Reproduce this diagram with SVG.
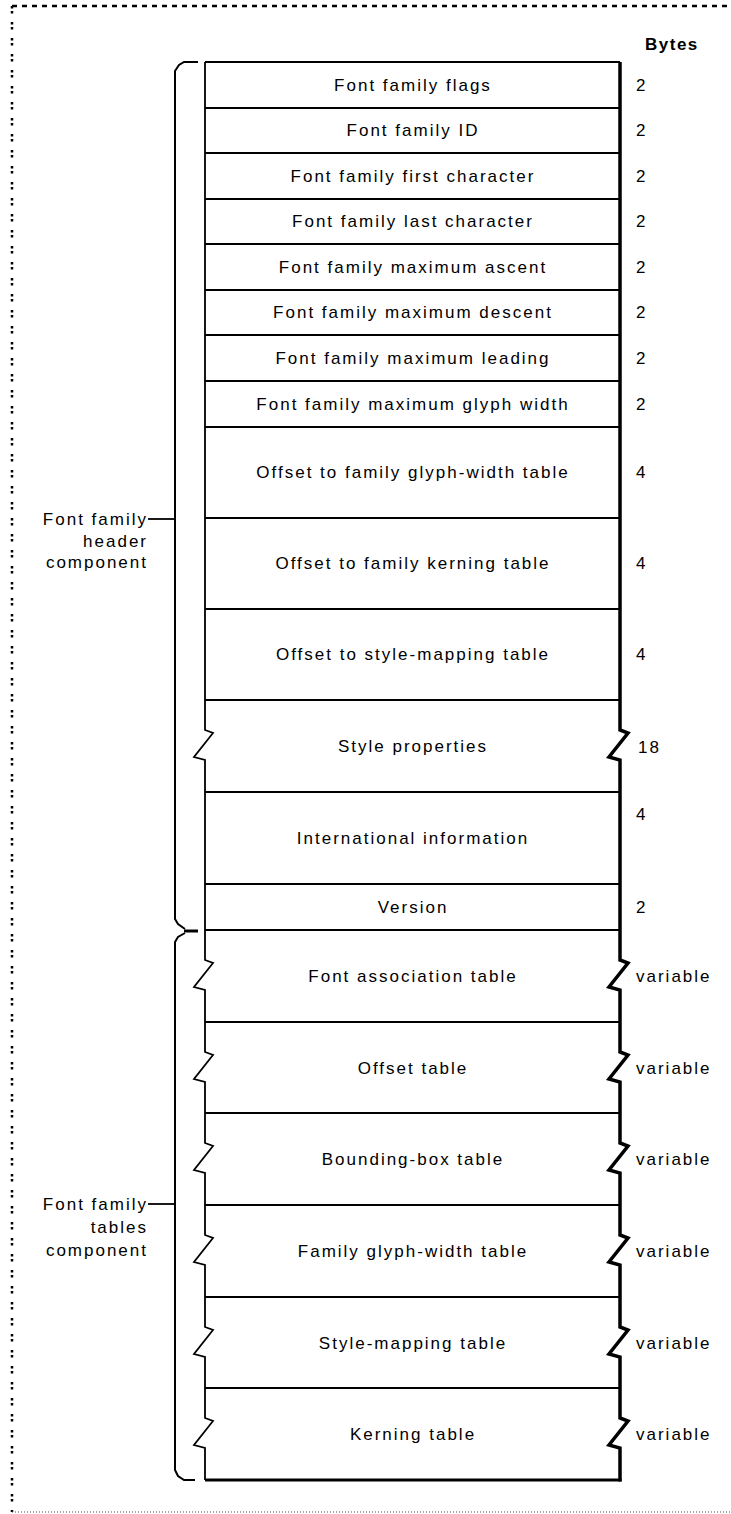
<svg xmlns="http://www.w3.org/2000/svg" width="731" height="1514" viewBox="0 0 731 1514">
<style>
.t{font-family:"Liberation Sans",Arial,sans-serif;font-size:17px;letter-spacing:2px;fill:#000;text-anchor:middle}
.b{font-family:"Liberation Sans",Arial,sans-serif;font-size:17px;letter-spacing:2px;fill:#000}
.l{font-family:"Liberation Sans",Arial,sans-serif;font-size:17px;letter-spacing:2px;fill:#000;text-anchor:end}
.h{font-family:"Liberation Sans",Arial,sans-serif;font-size:17px;font-weight:bold;letter-spacing:1.5px;fill:#000}
.ln{stroke:#000;stroke-width:1.8;fill:none}
.thk{stroke:#000;stroke-width:3.5;fill:none;stroke-linejoin:miter}
.br{stroke:#000;stroke-width:2;fill:none}
</style>
<rect width="731" height="1514" fill="#fff"/>
<g id="border">
<line x1="12" y1="6" x2="731" y2="6" stroke="#000" stroke-width="2.5" stroke-dasharray="5 5"/>
<line x1="12" y1="6" x2="12" y2="1512" stroke="#000" stroke-width="2.5" stroke-dasharray="2.5 2.5 2.5 8.5"/>
<line x1="12" y1="1512" x2="731" y2="1512" stroke="#444" stroke-width="1" stroke-dasharray="1 2"/>
</g>
<text class="h" x="645" y="50">Bytes</text>
<g id="frame">
<line class="ln" x1="205" y1="62" x2="620" y2="62"/>
<path class="ln" d="M205,62 V730 L213,733 L194,757 L205,760 V960 L213,963 L194,987 L205,990 V1052 L213,1055 L194,1079 L205,1082 V1143 L213,1146 L194,1170 L205,1173 V1235 L213,1238 L194,1262 L205,1265 V1327 L213,1330 L194,1354 L205,1357 V1418 L213,1421 L194,1445 L205,1448 V1480"/>
<path class="thk" d="M620,62 V730 L628,733 L609,757 L620,760 V960 L628,963 L609,987 L620,990 V1052 L628,1055 L609,1079 L620,1082 V1143 L628,1146 L609,1170 L620,1173 V1235 L628,1238 L609,1262 L620,1265 V1327 L628,1330 L609,1354 L620,1357 V1418 L628,1421 L609,1445 L620,1448 V1481.5"/>
<line x1="205" y1="1480" x2="621.5" y2="1480" stroke="#000" stroke-width="3"/>
</g>
<g id="row1"><text class="t" x="413" y="91">Font family flags</text><text class="b" x="636" y="91">2</text><line class="ln" x1="205" y1="108" x2="620" y2="108"/></g>
<g id="row2"><text class="t" x="413" y="136">Font family ID</text><text class="b" x="636" y="136">2</text><line class="ln" x1="205" y1="153" x2="620" y2="153"/></g>
<g id="row3"><text class="t" x="413" y="182">Font family first character</text><text class="b" x="636" y="182">2</text><line class="ln" x1="205" y1="199" x2="620" y2="199"/></g>
<g id="row4"><text class="t" x="413" y="227">Font family last character</text><text class="b" x="636" y="227">2</text><line class="ln" x1="205" y1="244" x2="620" y2="244"/></g>
<g id="row5"><text class="t" x="413" y="273">Font family maximum ascent</text><text class="b" x="636" y="273">2</text><line class="ln" x1="205" y1="290" x2="620" y2="290"/></g>
<g id="row6"><text class="t" x="413" y="318">Font family maximum descent</text><text class="b" x="636" y="318">2</text><line class="ln" x1="205" y1="335" x2="620" y2="335"/></g>
<g id="row7"><text class="t" x="413" y="364">Font family maximum leading</text><text class="b" x="636" y="364">2</text><line class="ln" x1="205" y1="381" x2="620" y2="381"/></g>
<g id="row8"><text class="t" x="413" y="410">Font family maximum glyph width</text><text class="b" x="636" y="410">2</text><line class="ln" x1="205" y1="427" x2="620" y2="427"/></g>
<g id="row9"><text class="t" x="413" y="478">Offset to family glyph-width table</text><text class="b" x="636" y="478">4</text><line class="ln" x1="205" y1="518" x2="620" y2="518"/></g>
<g id="row10"><text class="t" x="413" y="569">Offset to family kerning table</text><text class="b" x="636" y="569">4</text><line class="ln" x1="205" y1="609" x2="620" y2="609"/></g>
<g id="row11"><text class="t" x="413" y="660">Offset to style-mapping table</text><text class="b" x="636" y="660">4</text><line class="ln" x1="205" y1="700" x2="620" y2="700"/></g>
<g id="row12"><text class="t" x="413" y="752">Style properties</text><text class="b" x="638" y="753">18</text><line class="ln" x1="205" y1="792" x2="620" y2="792"/></g>
<g id="row13"><text class="t" x="413" y="844">International information</text><text class="b" x="636" y="820">4</text><line class="ln" x1="205" y1="884" x2="620" y2="884"/></g>
<g id="row14"><text class="t" x="413" y="913">Version</text><text class="b" x="636" y="913">2</text><line class="ln" x1="205" y1="930" x2="620" y2="930"/></g>
<g id="row15"><text class="t" x="413" y="982">Font association table</text><text class="b" x="636" y="982">variable</text><line class="ln" x1="205" y1="1022" x2="620" y2="1022"/></g>
<g id="row16"><text class="t" x="413" y="1074">Offset table</text><text class="b" x="636" y="1074">variable</text><line class="ln" x1="205" y1="1113" x2="620" y2="1113"/></g>
<g id="row17"><text class="t" x="413" y="1165">Bounding-box table</text><text class="b" x="636" y="1165">variable</text><line class="ln" x1="205" y1="1205" x2="620" y2="1205"/></g>
<g id="row18"><text class="t" x="413" y="1257">Family glyph-width table</text><text class="b" x="636" y="1257">variable</text><line class="ln" x1="205" y1="1297" x2="620" y2="1297"/></g>
<g id="row19"><text class="t" x="413" y="1349">Style-mapping table</text><text class="b" x="636" y="1349">variable</text><line class="ln" x1="205" y1="1388" x2="620" y2="1388"/></g>
<g id="row20"><text class="t" x="413" y="1440">Kerning table</text><text class="b" x="636" y="1440">variable</text></g>
<g id="brace-header">
<path class="br" d="M198,62 H184 L179,65 L175,71 V919 L178,924 L185,929"/>
<line x1="184" y1="931" x2="198" y2="931" stroke="#000" stroke-width="3"/>
<text class="l" x="148" y="525">Font family</text>
<text class="l" x="148" y="547">header</text>
<text class="l" x="148" y="568">component</text>
</g>
<g id="brace-tables">
<path class="br" d="M185,933 L178,937 L175,942 V1470 L178,1476 L184,1480 H195"/>
<text class="l" x="148" y="1210">Font family</text>
<text class="l" x="148" y="1233">tables</text>
<text class="l" x="148" y="1256">component</text>
</g>
<g id="connectors">
<line class="ln" x1="148" y1="519" x2="175" y2="519"/>
<line class="ln" x1="148" y1="1204" x2="175" y2="1204"/>
</g>
</svg>
